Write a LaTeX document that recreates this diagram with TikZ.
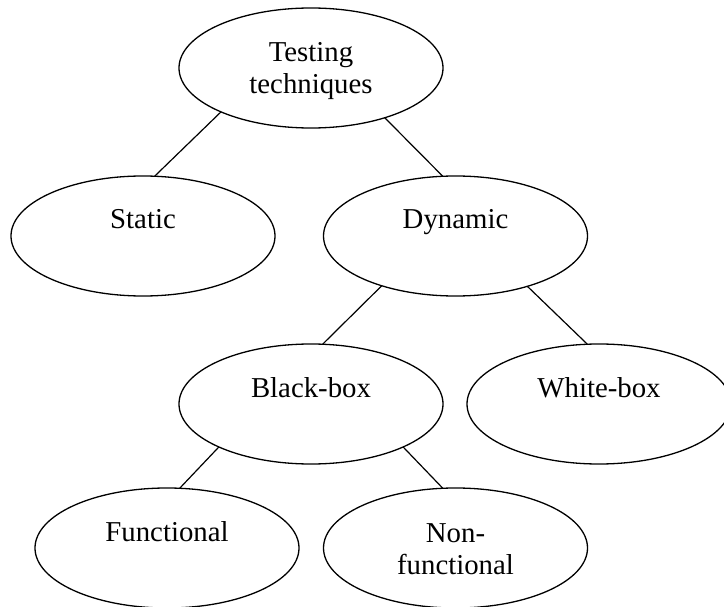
\documentclass[tikz,border=0pt]{standalone}
\usepackage{fontspec}
\setmainfont{Liberation Serif}
\usetikzlibrary{shapes.geometric}
\begin{document}
\begin{tikzpicture}[x=1pt,y=-1pt,
  oval/.style={ellipse,draw,line width=1.3pt,minimum width=264pt,minimum height=120pt,inner sep=0pt,outer sep=0pt},
  lbl/.style={font=\fontsize{28.8}{32}\selectfont,align=center,anchor=base,inner sep=0pt},
  edge/.style={line width=1.2pt}]
\useasboundingbox (0,0) rectangle (724,607);
\node[oval] (T) at (311,68) {};
\node[oval] (S) at (143,236) {};
\node[oval] (D) at (455.5,236) {};
\node[oval] (B) at (311,404) {};
\node[oval] (W) at (599,404) {};
\node[oval] (F) at (167,548) {};
\node[oval] (N) at (455.5,548) {};
\node[lbl] (Tt) at ([yshift=-26pt]T.center) {Testing\\techniques};
\node[lbl] (St) at ([yshift=7pt]S.center) {Static};
\node[lbl] (Dt) at ([yshift=7pt]D.center) {Dynamic};
\node[lbl] (Bt) at ([yshift=7pt]B.center) {Black-box};
\node[lbl] (Wt) at ([yshift=7pt]W.center) {White-box};
\node[lbl] (Ft) at ([yshift=7pt]F.center) {Functional};
\node[lbl] (Nt) at ([yshift=-26pt]N.center) {Non-\\functional};
\draw[edge] (T.206) -- (S.79);
\draw[edge] (T.326) -- (D.102);
\draw[edge] (D.214) -- (B.79);
\draw[edge] (D.325) -- (W.101);
\draw[edge] (B.205) -- (F.78);
\draw[edge] (B.335) -- (N.102);
\end{tikzpicture}
\end{document}
